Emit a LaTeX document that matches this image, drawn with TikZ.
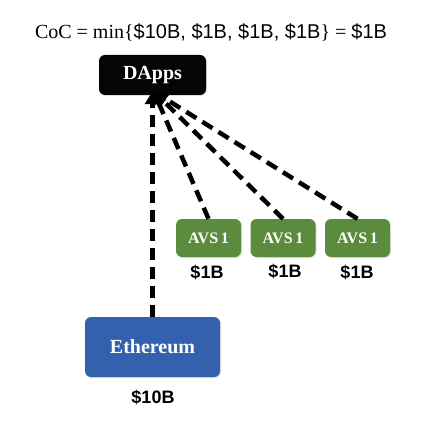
\documentclass[tikz,border=0pt]{standalone}
\usepackage{fontspec}
\setmainfont{Liberation Serif}
\newfontfamily\sansf{Liberation Sans}
\usetikzlibrary{arrows.meta,shadows}
\definecolor{dappblack}{HTML}{050505}
\definecolor{ethblue}{HTML}{3461AE}
\definecolor{avsgreen}{HTML}{5B8C3E}
\tikzset{
  boxbase/.style={rounded corners=6pt, text=white, inner sep=0pt, drop shadow={opacity=0.25, shadow xshift=1pt, shadow yshift=-1pt}},
  dappbox/.style={boxbase, fill=dappblack, minimum width=107pt, minimum height=40pt, font=\fontsize{20}{20}\selectfont\bfseries},
  ethbox/.style={boxbase, fill=ethblue, minimum width=135pt, minimum height=60pt, font=\fontsize{20}{20}\selectfont\bfseries},
  avsbox/.style={boxbase, fill=avsgreen, minimum width=65pt, minimum height=38pt, font=\fontsize{16}{16}\selectfont\bfseries},
  valuelbl/.style={font=\sansf\fontsize{18}{18}\selectfont\bfseries},
  dasharrow/.style={line width=4.5pt, dash pattern=on 12pt off 7pt, -{Triangle[length=13pt,width=15pt]}, shorten >=-2pt},
}
\begin{document}
\begin{tikzpicture}[x=1pt,y=-1pt]
\useasboundingbox (0,0) rectangle (429,430);
\node (title) at (211,32) {\fontsize{20}{20}\selectfont CoC = min\{{\sansf \$10B, \$1B, \$1B, \$1B}\} = {\sansf \$1B}};
\node[dappbox] (dapps) at (152.5,75) {DApps};
\node[ethbox] (eth) at (152.5,347) {Ethereum};
\node[valuelbl] (ethv) at (153,397) {\$10B};
\node[avsbox] (avs1) at (208.5,238) {AVS\,1};
\node[avsbox] (avs2) at (283,238) {AVS\,1};
\node[avsbox] (avs3) at (357.5,238) {AVS\,1};
\node[valuelbl] (v1) at (207,272) {\$1B};
\node[valuelbl] (v2) at (285,271) {\$1B};
\node[valuelbl] (v3) at (357,272) {\$1B};
\coordinate (tip) at ([yshift=2pt]dapps.south);
\draw[dasharrow] (eth.north) -- (tip);
\draw[dasharrow] (avs1.north) -- ([xshift=2pt]tip);
\draw[dasharrow] (avs2.north) -- ([xshift=3pt]tip);
\draw[dasharrow] (avs3.north) -- ([xshift=4pt]tip);
\end{tikzpicture}
\end{document}
